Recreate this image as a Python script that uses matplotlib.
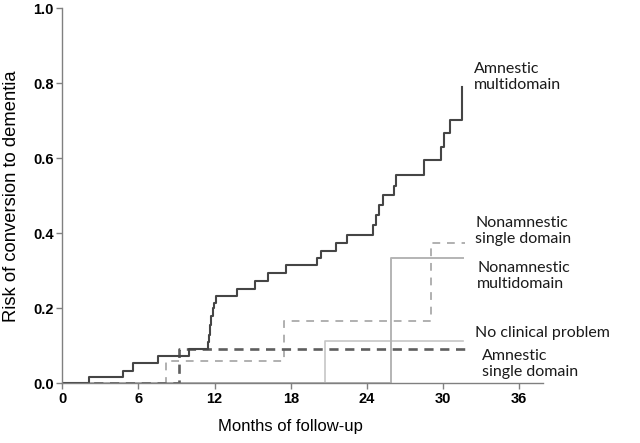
import matplotlib.pyplot as plt

# Months of follow-up and cumulative risk for each group
amn_multi_t = [0, 2.1, 4.8, 5.55, 7.55, 10.0, 11.45, 11.55, 11.65, 11.75, 11.85, 11.95,
               12.1, 13.8, 15.2, 16.2, 17.65, 20.1, 20.4, 21.6, 22.45, 24.5, 24.75,
               24.95, 25.25, 26.1, 26.3, 28.5, 29.8, 30.05, 30.55, 31.5]
amn_multi_r = [0, 0.018, 0.033, 0.054, 0.073, 0.091, 0.11, 0.13, 0.155, 0.18, 0.20, 0.215,
               0.232, 0.252, 0.273, 0.294, 0.315, 0.333, 0.352, 0.374, 0.396, 0.421, 0.448,
               0.475, 0.501, 0.527, 0.555, 0.595, 0.63, 0.667, 0.703, 0.79]

amn_single_t = [0, 9.2, 31.7]
amn_single_r = [0, 0.091, 0.091]

nonamn_single_t = [0, 8.2, 17.45, 29.05, 31.7]
nonamn_single_r = [0, 0.06, 0.165, 0.374, 0.374]

nonamn_multi_t = [0, 25.9, 31.55]
nonamn_multi_r = [0, 0.333, 0.333]

no_problem_t = [0, 20.7, 31.55]
no_problem_r = [0, 0.113, 0.113]

# curve labels: text, x (months), y (risk)
labels = ["Amnestic\nmultidomain", "Nonamnestic\nsingle domain", "Nonamnestic\nmultidomain",
          "No clinical problem", "Amnestic\nsingle domain"]
label_x = [32.4, 32.55, 32.7, 32.5, 33.05]
label_y = [0.817, 0.406, 0.286, 0.134, 0.051]

x_ticks = [0, 6, 12, 18, 24, 30, 36]
y_ticks = [0.0, 0.2, 0.4, 0.6, 0.8, 1.0]

fig = plt.figure(figsize=(6.4, 4.43), dpi=100)
ax = fig.add_axes([0.0973, 0.1348, 0.7507, 0.8462])

ax.step(no_problem_t, no_problem_r, where='post', color='#c6c6c6', lw=1.2)
ax.step(nonamn_multi_t, nonamn_multi_r, where='post', color='#b4b4b4', lw=1.4)
ax.step(nonamn_single_t, nonamn_single_r, where='post', color='#b0b0b0', lw=1.4,
        dashes=(4, 3.5))
ax.step(amn_single_t, amn_single_r, where='post', color='#5e5e5e', lw=1.9,
        dashes=(3.5, 2.5))
ax.step(amn_multi_t, amn_multi_r, where='post', color='#454545', lw=1.5)

for txt, x, y in zip(labels, label_x, label_y):
    ax.text(x, y, txt, ha='left', va='center', fontsize=11.5, family='Lato',
            color='#1a1a1a', linespacing=1.15, clip_on=False)

ax.set_xlim(0, 37.85)
ax.set_ylim(0, 1)
ax.set_xticks(x_ticks)
ax.set_yticks(y_ticks)
ax.set_xticklabels([str(t) for t in x_ticks], fontweight='bold', fontsize=10.5,
                   family='Liberation Sans')
ax.set_yticklabels(['%.1f' % t for t in y_ticks], fontweight='bold', fontsize=10.5,
                   family='Liberation Sans')
ax.tick_params(direction='out', length=4, width=1, color='#808080', pad=2)

for side in ['top', 'right']:
    ax.spines[side].set_visible(False)
for side in ['left', 'bottom']:
    ax.spines[side].set_color('#808080')
    ax.spines[side].set_linewidth(1)

ax.set_xlabel('Months of follow-up', fontsize=12, family='Liberation Sans')
ax.xaxis.set_label_coords(18 / 37.85, -0.095)
ax.set_ylabel('Risk of conversion to dementia', fontsize=13.2, family='Liberation Sans')
ax.yaxis.set_label_coords(-0.088, 0.5)

plt.savefig('out.png', dpi=100)
